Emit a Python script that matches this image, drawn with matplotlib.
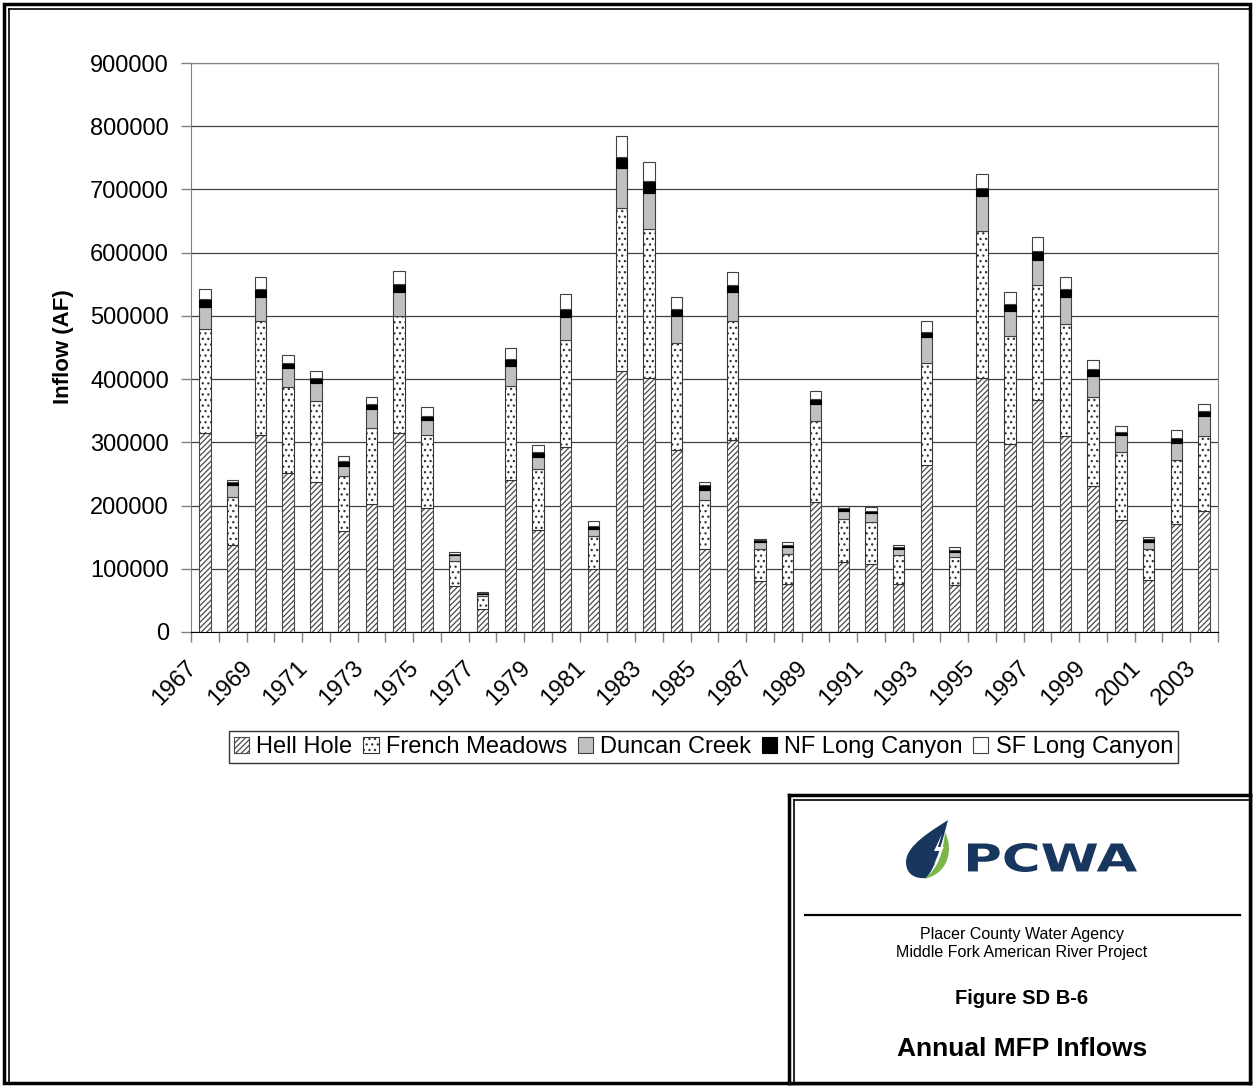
import numpy as np
import matplotlib
matplotlib.use("Agg")
import matplotlib.pyplot as plt
from matplotlib.patches import Patch, Rectangle, PathPatch
from matplotlib.path import Path
from matplotlib.textpath import TextPath
from matplotlib.font_manager import FontProperties
from matplotlib.transforms import Affine2D, ScaledTranslation, blended_transform_factory
from matplotlib.lines import Line2D

plt.rcParams['font.family'] = ['Liberation Sans', 'DejaVu Sans']
plt.rcParams['hatch.linewidth'] = 0.9

W, H = 1255, 1086

years = list(range(1967, 2004))
hell_hole = [315000, 138000, 312000, 251000, 238000, 159000, 202000, 315000, 196000, 72000,
             37000, 241000, 161000, 292000, 99000, 413000, 401000, 288000, 131000, 304000,
             81000, 76000, 205000, 111000, 107000, 76000, 264000, 74000, 402000, 298000,
             367000, 310000, 231000, 177000, 83000, 171000, 192000]
french_meadows = [165000, 76000, 180000, 137000, 128000, 87000, 121000, 185000, 116000, 40000,
                  20000, 148000, 97000, 170000, 53000, 258000, 236000, 169000, 78000, 188000,
                  50000, 47000, 129000, 68000, 67000, 46000, 162000, 45000, 233000, 170000,
                  182000, 177000, 141000, 108000, 48000, 101000, 118000]
duncan_creek = [34000, 18000, 38000, 29000, 28000, 17000, 30000, 38000, 23000, 10000,
                3000, 32000, 19000, 36000, 11000, 63000, 58000, 43000, 16000, 45000,
                11000, 12000, 27000, 12000, 15000, 9000, 40000, 7000, 54000, 39000,
                39000, 43000, 33000, 26000, 11000, 27000, 31000]
nf_long_canyon = [12000, 5000, 12000, 8000, 8000, 8000, 8000, 13000, 7000, 2000,
                  2000, 11000, 7000, 13000, 4000, 18000, 18000, 11000, 7000, 12000,
                  3000, 3000, 7000, 5000, 3000, 4000, 9000, 4000, 13000, 12000,
                  15000, 12000, 11000, 6000, 5000, 8000, 8000]
sf_long_canyon = [16000, 4000, 20000, 13000, 11000, 7000, 11000, 20000, 14000, 2000,
                  1000, 17000, 11000, 23000, 8000, 32000, 31000, 19000, 6000, 20000,
                  2000, 4000, 13000, 3000, 5000, 3000, 17000, 4000, 23000, 18000,
                  22000, 20000, 15000, 9000, 4000, 12000, 12000]
series_names = ["Hell Hole", "French Meadows", "Duncan Creek", "NF Long Canyon", "SF Long Canyon"]
y_ticks = list(range(0, 900001, 100000))


def px(x, y):
    return (x / W, 1 - y / H)


fig = plt.figure(figsize=(W / 100, H / 100), dpi=100)
fig.patch.set_facecolor('white')

# outer page frame
fig.add_artist(Rectangle(px(4, 1083), 1246 / W, 1079 / H, fill=False, lw=2.5,
                         ec='black', transform=fig.transFigure))
fig.add_artist(Line2D([9 / W, 9 / W], [1 - 9 / H, 1 - 1083 / H], lw=1.2, color='black',
                      transform=fig.transFigure))
fig.add_artist(Line2D([9 / W, 1250 / W], [1 - 9 / H, 1 - 9 / H], lw=1.2, color='black',
                      transform=fig.transFigure))

ax = fig.add_axes([191 / W, 1 - 632 / H, (1218 - 191) / W, (632 - 63) / H])
x = np.arange(len(years))
styles = [('white', '//////', '#4a4a4a'),
          ('white', '...', '#333333'),
          ('#c0c0c0', '', '#404040'),
          ('black', '', 'black'),
          ('white', '', '#404040')]
bottom = np.zeros(len(years))
for vals, (fc, hatch, ec) in zip([hell_hole, french_meadows, duncan_creek, nf_long_canyon,
                                  sf_long_canyon], styles):
    ax.bar(x, vals, 0.41, bottom=bottom, color=fc, hatch=hatch, edgecolor=ec,
           linewidth=0.8, zorder=3)
    bottom += np.array(vals)

ax.set_yticks(y_ticks)
ax.set_yticklabels([str(v) for v in y_ticks], fontsize=17)
ax.set_xticks([])
ax.set_xticks(np.arange(-0.5, len(years), 1), minor=True)
ax.tick_params(axis='x', which='minor', length=7, color='#808080', width=1)
ax.tick_params(axis='y', length=7, color='#808080', width=1, pad=9)
ax.set_xlim(-0.5, len(years) - 0.5)
ax.set_ylim(0, 900000)

# year labels every other bar, nudged left/down like the source chart
lab_tr = (blended_transform_factory(ax.transData, ax.transAxes)
          + ScaledTranslation(-0.19, -0.25, fig.dpi_scale_trans))
for xi, yr in zip(x[::2], years[::2]):
    ax.text(xi, 0, str(yr), transform=lab_tr, rotation=45, ha='right', va='top',
            rotation_mode='anchor', fontsize=17)

ax.yaxis.grid(True, color='#404040', lw=0.9)
ax.set_axisbelow(True)
for s in ['left', 'right', 'top']:
    ax.spines[s].set_color('#808080')
ax.spines['bottom'].set_color('black')

fig.text(64 / W, 1 - 347 / H, 'Inflow (AF)', rotation=90, ha='center', va='center',
         fontsize=16, fontweight='bold')

handles = [Patch(facecolor=fc, edgecolor=ec, hatch=h, lw=0.8) for fc, h, ec in styles]
leg = fig.legend(handles, series_names, loc='center', bbox_to_anchor=px(703.5, 747),
                 ncol=5, frameon=True, fancybox=False, edgecolor='black', fontsize=17,
                 handlelength=0.65, handleheight=0.65, handletextpad=0.3,
                 columnspacing=0.45, borderpad=0.2, borderaxespad=0)
leg.get_frame().set_linewidth(1.0)

# title block
fig.add_artist(Rectangle(px(789, 1083), (1250 - 789) / W, (1083 - 795) / H, fc='white',
                         ec='none', transform=fig.transFigure, zorder=5))
for (xa, ya), (xb, yb), lw in [((789, 795), (789, 1083), 2.5), ((794, 800), (794, 1083), 1.2),
                              ((789, 795), (1250, 795), 2.5), ((794, 800), (1250, 800), 1.2),
                              ((1250, 795), (1250, 1083), 2.5), ((789, 1083), (1250, 1083), 2.5)]:
    fig.add_artist(Line2D([xa / W, xb / W], [1 - ya / H, 1 - yb / H], lw=lw, color='black',
                          transform=fig.transFigure, zorder=6))
fig.add_artist(Line2D([805 / W, 1240 / W], [1 - 915 / H, 1 - 915 / H], lw=1.6, color='black',
                      transform=fig.transFigure, zorder=6))


def drop_path(points, codes):
    verts = [px(a, b) for a, b in points]
    return Path(verts, codes)


C = Path.CURVE4
navy = '#17375e'
body = drop_path([(948, 820), (933, 830), (906, 845), (906, 862), (906, 875), (916, 879),
                  (926, 878), (937, 866), (941, 845), (948, 820)],
                 [Path.MOVETO, C, C, C, C, C, C, C, C, C])
fig.add_artist(PathPatch(body, fc=navy, ec='none', transform=fig.transFigure, zorder=7))
green = drop_path([(945, 832), (954, 850), (948, 874), (924, 879), (939, 868), (943, 852),
                   (945, 832)],
                  [Path.MOVETO, C, C, C, C, C, C])
fig.add_artist(PathPatch(green, fc='#7ab648', ec='none', transform=fig.transFigure, zorder=7))
bolt = drop_path([(942, 834), (934, 851), (940, 851), (933, 866), (944, 847), (938, 847),
                  (942, 834)], [Path.MOVETO] + [Path.LINETO] * 5 + [Path.CLOSEPOLY])
fig.add_artist(PathPatch(bolt, fc='white', ec='none', transform=fig.transFigure, zorder=8))

tp = TextPath((0, 0), 'PCWA', size=50, prop=FontProperties(family='DejaVu Sans', weight='bold'))
bb = tp.get_extents()
tr = (Affine2D().translate(-bb.x0, -bb.y0).scale(169 / bb.width / W, 29 / bb.height / H)
      .translate(968 / W, 1 - 872 / H) + fig.transFigure)
fig.add_artist(PathPatch(tp, fc=navy, ec='none', transform=tr, zorder=7))

fig.text(1022 / W, 1 - 934 / H, 'Placer County Water Agency', ha='center', va='center',
         fontsize=11.5, zorder=8)
fig.text(1022 / W, 1 - 952 / H, 'Middle Fork American River Project', ha='center',
         va='center', fontsize=11.5, zorder=8)
fig.text(1022 / W, 1 - 998 / H, 'Figure SD B-6', ha='center', va='center', fontsize=14.5,
         fontweight='bold', zorder=8)
fig.text(1022 / W, 1 - 1049 / H, 'Annual MFP Inflows', ha='center', va='center',
         fontsize=19, fontweight='bold', zorder=8)

fig.savefig('out.png', dpi=100)
